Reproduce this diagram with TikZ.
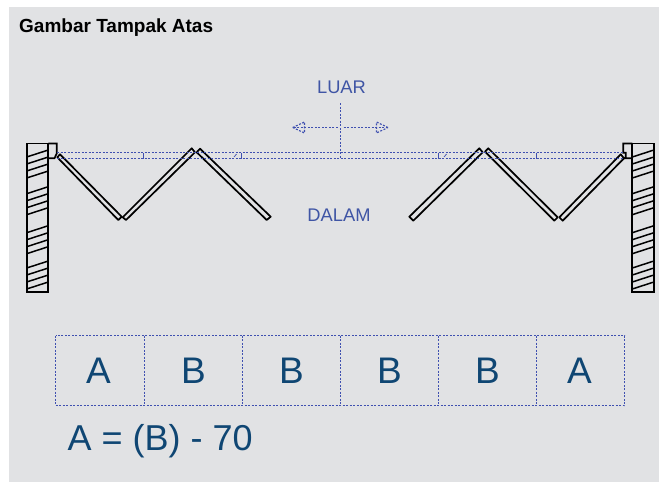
\documentclass[tikz,border=0pt]{standalone}
\usepackage{fontspec}
\setmainfont{Liberation Sans}
\usepackage{tikz}
\usetikzlibrary{positioning,calc}
\definecolor{panelbg}{HTML}{E1E2E4}
\definecolor{dotblue}{HTML}{3F50B0}
\definecolor{labelblue}{HTML}{3F55A5}
\definecolor{sizeblue}{HTML}{0F4673}
\tikzset{
  leaf/.style={draw=black,line width=1.7pt,line join=round},
  wallline/.style={draw=black,line width=1.7pt},
  dotline/.style={draw=dotblue,line width=1.1pt,dash pattern=on 2pt off 1.5pt},
  sizebox/.style={outer sep=0pt,inner sep=0pt,
    minimum height=70pt,text height=26.5pt,text depth=0pt,text=sizeblue,font=\fontsize{37}{37}\selectfont},
  sidelabel/.style={text=labelblue,inner sep=0pt,font=\fontsize{18.3}{20}\selectfont}
}
\begin{document}
\begin{tikzpicture}[x=1pt,y=-1pt]
\useasboundingbox (0,0) rectangle (659,482);
\fill [panelbg] (9,7) rectangle (659,482);
\node (title) [anchor=west,inner sep=0pt,font=\fontsize{19}{20}\selectfont\bfseries] at (19,28) {Gambar Tampak Atas};
% walls
\draw [wallline] (26.7,143.5) rectangle (48.3,292.3);
\draw [wallline] (632.3,143.5) rectangle (654,292.3);
\foreach \wx in {26.7,632.3} {
  \foreach \gy in {150,186.7,225.7,261} {
    \foreach \n in {0,1,2,3} {
      \draw [wallline,line width=1.5pt] (\wx,\gy+7+\n*7) -- (\wx+21.6,\gy+\n*7);
    }
  }
}
% jambs
\draw [wallline] (48.3,143.5) -- (56.7,143.5) -- (56.7,153.5) -- (54.5,158.3) -- (48.3,158.3);
\draw [wallline] (632.3,143.5) -- (623.3,143.5) -- (623.3,152.7) -- (625.7,152.7) -- (625.7,157) -- (624.5,158.3) -- (632.3,158.3);
% door leaves
\draw [leaf] (57.3,157.3) -- (60,154.3) -- (121.7,216.7) -- (118.3,220) -- cycle;
\draw [leaf] (122.7,217.3) -- (191.7,148.3) -- (195,152.3) -- (126,220) -- cycle;
\draw [leaf] (196.7,152.3) -- (200,148.7) -- (270.7,216.7) -- (266.7,220) -- cycle;
\draw [leaf] (409.3,216.7) -- (479.3,148.3) -- (482.7,152.3) -- (413.3,220.7) -- cycle;
\draw [leaf] (485,151.7) -- (488.3,148.3) -- (557.7,217.3) -- (554.3,220.7) -- cycle;
\draw [leaf] (559.3,217.3) -- (620.7,154.3) -- (624,158.3) -- (562.7,220.7) -- cycle;
% track
\coordinate (trackL) at (57,152.5);
\coordinate (trackR) at (623,152.5);
\coordinate (railL) at (57,158.5);
\coordinate (railR) at (623,158.5);
\draw [dotline] (trackL) -- (trackR);
\draw [dotline] (railL) -- (railR);
\foreach \tx in {143.8,241.7,438.3,536} {
  \draw [dotline,solid,line width=0.9pt] (\tx,152.5) -- (\tx,158.5);
}
\draw [dotline,solid,line width=0.7pt] (234,157) -- (236.5,154);
\draw [dotline,solid,line width=0.7pt] (444,157) -- (446.5,154);
% centre line and arrows
\coordinate (axisT) at (340.5,103);
\coordinate (axisB) at (340.5,158.5);
\coordinate (axisM) at (340.5,127.5);
\coordinate (tipL) at (292.7,127.5);
\coordinate (tipR) at (388,127.5);
\draw [dotline] (axisT) -- (axisB);
\draw [dotline] ($(axisM)+(-3,0)$) -- (tipL);
\draw [dotline] ($(axisM)+(3,0)$) -- (tipR);
\draw [dotline] (tipL) -- (304.5,122) -- (304.5,133) -- cycle;
\draw [dotline] (tipR) -- (376.5,122) -- (376.5,133) -- cycle;
\node (luar) [sidelabel] at (341.5,87.5) {LUAR};
\node (dalam) [sidelabel] at (339,215.5) {DALAM};
% size boxes
\node (a1) [sizebox,minimum width=89pt,anchor=north west] at (55.5,335.5) {\hspace{-3pt}A};
\node (b1) [sizebox,minimum width=98pt,right=0pt of a1] {B};
\node (b2) [sizebox,minimum width=98pt,right=0pt of b1] {B};
\node (b3) [sizebox,minimum width=98pt,right=0pt of b2] {B};
\node (b4) [sizebox,minimum width=98pt,right=0pt of b3] {B};
\node (a2) [sizebox,minimum width=88pt,right=0pt of b4] {\hspace{-2pt}A};
\draw [dotline] (a1.north west) rectangle (a2.south east);
\foreach \bx in {a1,b1,b2,b3,b4} {
  \draw [dotline] (\bx.north east) -- (\bx.south east);
}
\node (formula) [anchor=west,inner sep=0pt,text=sizeblue,font=\fontsize{36}{36}\selectfont] at (67.5,441.5) {A = (B) - 70};
\end{tikzpicture}
\end{document}
